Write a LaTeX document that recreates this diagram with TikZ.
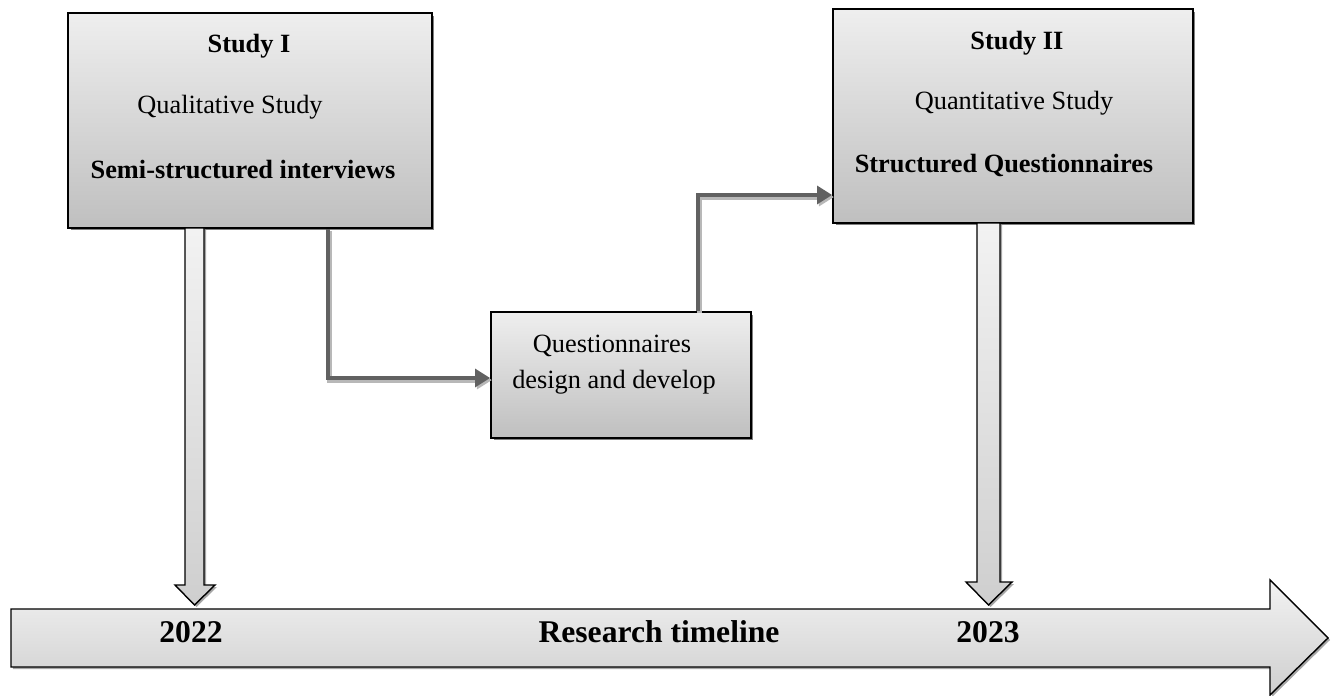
\documentclass[tikz,border=0pt]{standalone}
\usepackage{fontspec}
\setmainfont{Liberation Serif}
\usetikzlibrary{arrows.meta}
\usetikzlibrary{shadows}
\usetikzlibrary{calc}
\tikzset{>=latex}
\tikzset{box/.style={draw=black,line width=1pt,top color=gray!13,bottom color=gray!50,inner sep=0pt,
    drop shadow={shadow xshift=0.05cm,shadow yshift=-0.05cm,fill=black!50,opacity=1}}}
\tikzset{bigarrow/.style={draw=black,line width=0.8pt,top color=gray!10,bottom color=gray!38,
    drop shadow={shadow xshift=0.04cm,shadow yshift=-0.04cm,fill=black!35,opacity=1}}}
\tikzset{txt/.style={anchor=base,inner sep=0pt,font=\fontsize{15}{18}\selectfont}}
\tikzset{btxt/.style={anchor=base,inner sep=0pt,font=\fontsize{15}{18}\selectfont\bfseries}}
\tikzset{ytxt/.style={anchor=base,inner sep=0pt,font=\fontsize{18}{22}\selectfont\bfseries}}
\tikzset{link/.style={draw=black!62,line width=2.8pt,-{Triangle[length=8.5pt,width=10pt]},
    preaction={draw=black!28,line width=2.8pt,transform canvas={xshift=1pt,yshift=-1.2pt}}}}

\begin{document}
\begin{tikzpicture}[x=0.02cm,y=-0.02cm]
    \useasboundingbox (0,0) rectangle (1336,696);

    \node[box,minimum width=7.28cm,minimum height=4.3cm] (S1) at (250,120.5) {};
    \node[box,minimum width=7.2cm,minimum height=4.28cm] (S2) at (1013,116) {};
    \node[box,minimum width=5.2cm,minimum height=2.52cm] (Q) at (621,375) {};

    % block arrows to the timeline
    \draw[bigarrow] (185,228) -- (204,228) -- (204,585) -- (215,585) -- (194.5,605)
        -- (175,585) -- (185,585) -- cycle;
    \draw[bigarrow] (977,223) -- (1000,223) -- (1000,582) -- (1012,582) -- (988.5,605)
        -- (966,582) -- (977,582) -- cycle;
    \draw[bigarrow] (11,609) -- (1270,609) -- (1270,580) -- (1328,638) -- (1270,695)
        -- (1270,667) -- (11,667) -- cycle;

    \node[btxt] (S1a) at (249,53) {Study I};
    \node[txt] (S1b) at (230,113) {Qualitative Study};
    \node[btxt] (S1c) at (243,178) {Semi-structured interviews};

    \node[btxt] (S2a) at (1017,50) {Study II};
    \node[txt] (S2b) at (1014,110) {Quantitative Study};
    \node[btxt] (S2c) at (1004,173) {Structured Questionnaires};

    \node[txt] (Qa) at (612,352) {Questionnaires};
    \node[txt] (Qb) at (614,388) {design and develop};

    \node[ytxt] (Y1) at (191,642) {2022};
    \node[ytxt] (RT) at (659,642) {Research timeline};
    \node[ytxt] (Y2) at (988,642) {2023};

    \draw[link] ([xshift=1.56cm]S1.south) |- ([yshift=-0.06cm]Q.west);
    \draw[link] ([xshift=1.54cm]Q.north) |- ([yshift=-1.58cm]S2.west);

\end{tikzpicture}
\end{document}
